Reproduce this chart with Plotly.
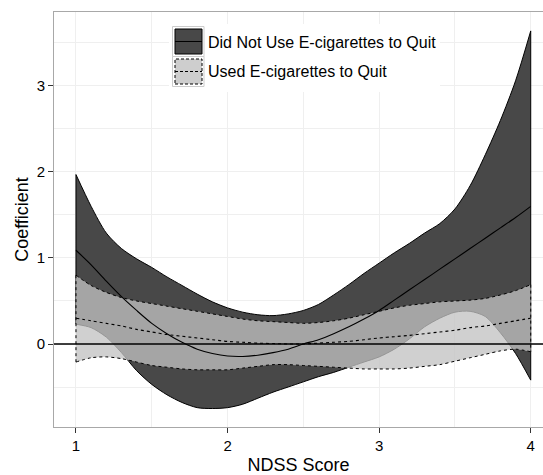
import plotly.graph_objects as go

# ---- data ----
ndss = [1.0, 1.1, 1.2, 1.3, 1.4, 1.5, 1.6, 1.7, 1.8, 1.9, 2.0,
        2.1, 2.2, 2.3, 2.4, 2.5, 2.6, 2.7, 2.8, 2.9, 3.0,
        3.1, 3.2, 3.3, 3.4, 3.5, 3.6, 3.7, 3.8, 3.9, 4.0]

no_ecig_upper = [1.97, 1.60, 1.29, 1.11, 0.99, 0.89, 0.78, 0.68, 0.58, 0.49, 0.42,
                 0.37, 0.34, 0.33, 0.35, 0.39, 0.46, 0.57, 0.69, 0.82, 0.94,
                 1.06, 1.17, 1.29, 1.40, 1.57, 1.84, 2.20, 2.60, 3.06, 3.64]
no_ecig_mean = [1.09, 0.92, 0.73, 0.55, 0.39, 0.24, 0.12, 0.02, -0.06, -0.11, -0.14,
                -0.145, -0.13, -0.10, -0.06, 0.00, 0.05, 0.12, 0.20, 0.29, 0.39,
                0.51, 0.63, 0.75, 0.87, 0.99, 1.11, 1.23, 1.35, 1.47, 1.60]
no_ecig_lower = [0.23, 0.19, 0.08, -0.10, -0.31, -0.47, -0.59, -0.68, -0.74, -0.75, -0.74,
                 -0.70, -0.63, -0.56, -0.50, -0.44, -0.38, -0.33, -0.27, -0.21, -0.15,
                 -0.06, 0.06, 0.20, 0.30, 0.37, 0.38, 0.32, 0.13, -0.11, -0.42]

ecig_upper = [0.80, 0.68, 0.60, 0.54, 0.50, 0.47, 0.44, 0.41, 0.38, 0.35, 0.32,
              0.29, 0.27, 0.26, 0.25, 0.24, 0.25, 0.27, 0.30, 0.34, 0.38,
              0.42, 0.45, 0.47, 0.49, 0.50, 0.51, 0.53, 0.57, 0.62, 0.69]
ecig_mean = [0.30, 0.27, 0.24, 0.21, 0.17, 0.14, 0.11, 0.09, 0.07, 0.05, 0.03,
             0.02, 0.01, 0.005, 0.0, 0.0, 0.01, 0.02, 0.03, 0.05, 0.07,
             0.085, 0.10, 0.12, 0.14, 0.16, 0.19, 0.21, 0.24, 0.27, 0.30]
ecig_lower = [-0.21, -0.16, -0.15, -0.17, -0.21, -0.25, -0.27, -0.29, -0.30, -0.30, -0.30,
              -0.28, -0.26, -0.24, -0.24, -0.25, -0.26, -0.27, -0.28, -0.29, -0.29,
              -0.29, -0.28, -0.26, -0.24, -0.20, -0.16, -0.12, -0.08, -0.06, -0.09]

x_ticks = [1, 2, 3, 4]
y_ticks = [0, 1, 2, 3]
legend_labels = ["Did Not Use E-cigarettes to Quit", "Used E-cigarettes to Quit"]

# ---- styles ----
DARK_FILL = "rgb(72,72,72)"
LIGHT_FILL = "rgba(194,194,194,0.77)"
FONT = "Arial, Liberation Sans, sans-serif"

W, H = 543, 475
ML, MR, MT, MB = 54, 0, 12, 48
PW, PH = W - ML - MR, H - MT - MB


def px(x):
    return (x - ML) / PW


def py(y):
    return (H - MB - y) / PH


fig = go.Figure()

# dark ribbon (Did Not Use)
fig.add_trace(go.Scatter(x=ndss, y=no_ecig_lower, mode="lines",
                         line=dict(color="black", width=1, shape="spline", smoothing=0.8),
                         showlegend=False, hoverinfo="skip"))
fig.add_trace(go.Scatter(x=ndss, y=no_ecig_upper, mode="lines", fill="tonexty",
                         fillcolor=DARK_FILL,
                         line=dict(color="black", width=1, shape="spline", smoothing=0.8),
                         showlegend=False, hoverinfo="skip"))
fig.add_trace(go.Scatter(x=[ndss[0], ndss[0], None, ndss[-1], ndss[-1]],
                         y=[no_ecig_upper[0], no_ecig_lower[0], None, no_ecig_upper[-1], no_ecig_lower[-1]],
                         mode="lines", line=dict(color="black", width=1),
                         showlegend=False, hoverinfo="skip"))

# light ribbon (Used)
fig.add_trace(go.Scatter(x=ndss, y=ecig_lower, mode="lines",
                         line=dict(color="black", width=1, dash="3px,3px", shape="spline", smoothing=0.8),
                         showlegend=False, hoverinfo="skip"))
fig.add_trace(go.Scatter(x=ndss, y=ecig_upper, mode="lines", fill="tonexty",
                         fillcolor=LIGHT_FILL,
                         line=dict(color="black", width=1, dash="3px,3px", shape="spline", smoothing=0.8),
                         showlegend=False, hoverinfo="skip"))
fig.add_trace(go.Scatter(x=[ndss[0], ndss[0], None, ndss[-1], ndss[-1]],
                         y=[ecig_upper[0], ecig_lower[0], None, ecig_upper[-1], ecig_lower[-1]],
                         mode="lines", line=dict(color="black", width=1, dash="3px,3px"),
                         showlegend=False, hoverinfo="skip"))

# mean lines
fig.add_trace(go.Scatter(x=ndss, y=no_ecig_mean, mode="lines",
                         line=dict(color="black", width=1.1, shape="spline", smoothing=0.8),
                         showlegend=False, hoverinfo="skip"))
fig.add_trace(go.Scatter(x=ndss, y=ecig_mean, mode="lines",
                         line=dict(color="black", width=1.1, dash="3px,3px", shape="spline", smoothing=0.8),
                         showlegend=False, hoverinfo="skip"))

shapes = []
# zero reference line
shapes.append(dict(type="line", xref="paper", yref="y", x0=0, x1=1, y0=0, y1=0,
                   line=dict(color="black", width=1.3), layer="above"))

# manual legend (ggplot-style keys)
shapes.append(dict(type="rect", xref="paper", yref="paper",
                   x0=px(169), x1=px(440), y0=py(92), y1=py(24),
                   fillcolor="white", line=dict(width=0), layer="above"))
kx0, kx1 = px(172.5), px(204)
shapes.append(dict(type="rect", xref="paper", yref="paper", x0=kx0, x1=kx1,
                   y0=py(56.5), y1=py(26.5), fillcolor="white",
                   line=dict(color="#cccccc", width=1), layer="above"))
shapes.append(dict(type="rect", xref="paper", yref="paper", x0=kx0, x1=kx1,
                   y0=py(86.5), y1=py(56.5), fillcolor="white",
                   line=dict(color="#cccccc", width=1), layer="above"))
shapes.append(dict(type="rect", xref="paper", yref="paper", x0=px(175), x1=px(202),
                   y0=py(54), y1=py(29), fillcolor=DARK_FILL,
                   line=dict(color="black", width=1), layer="above"))
shapes.append(dict(type="line", xref="paper", yref="paper", x0=px(175), x1=px(202),
                   y0=py(41.5), y1=py(41.5), line=dict(color="black", width=1), layer="above"))
shapes.append(dict(type="rect", xref="paper", yref="paper", x0=px(175), x1=px(202),
                   y0=py(84), y1=py(59), fillcolor="rgb(206,206,206)",
                   line=dict(color="black", width=1, dash="3px,2px"), layer="above"))
shapes.append(dict(type="line", xref="paper", yref="paper", x0=px(175), x1=px(202),
                   y0=py(71.5), y1=py(71.5), line=dict(color="black", width=1, dash="3px,2px"),
                   layer="above"))

annotations = [
    dict(text=legend_labels[0], xref="paper", yref="paper", x=px(206), y=py(42),
         xanchor="left", yanchor="middle", showarrow=False,
         font=dict(family=FONT, size=16, color="black")),
    dict(text=legend_labels[1], xref="paper", yref="paper", x=px(206), y=py(71.5),
         xanchor="left", yanchor="middle", showarrow=False,
         font=dict(family=FONT, size=16, color="black")),
]

GRID = "#efefef"
fig.update_layout(
    width=W, height=H,
    margin=dict(l=ML, r=MR, t=MT, b=MB, autoexpand=False),
    paper_bgcolor="white", plot_bgcolor="white",
    showlegend=False,
    shapes=shapes, annotations=annotations,
    font=dict(family=FONT, color="black"),
    xaxis=dict(range=[0.855, 4.081], tickvals=x_ticks, ticktext=[str(v) for v in x_ticks],
               ticks="outside", ticklen=5, tickwidth=1, tickcolor="#333333",
               tickfont=dict(size=15, color="black"),
               showgrid=True, gridcolor=GRID, gridwidth=1,
               minor=dict(dtick=0.5, tick0=0, showgrid=True, gridcolor=GRID, gridwidth=1),
               zeroline=False, showline=True, linecolor="#a8a8a8", linewidth=1, mirror=True,
               title=dict(text="NDSS Score", font=dict(size=18, color="black"), standoff=8)),
    yaxis=dict(range=[-0.965, 3.86], tickvals=y_ticks, ticktext=[str(v) for v in y_ticks],
               ticks="outside", ticklen=5, tickwidth=1, tickcolor="#333333",
               tickfont=dict(size=15, color="black"),
               showgrid=True, gridcolor=GRID, gridwidth=1,
               minor=dict(dtick=0.5, tick0=0, showgrid=True, gridcolor=GRID, gridwidth=1),
               zeroline=False, showline=True, linecolor="#a8a8a8", linewidth=1, mirror=False,
               title=dict(text="Coefficient", font=dict(size=18, color="black"), standoff=3)),
)

fig.write_html("out.html", config={"displayModeBar": False},
               post_script="document.body.style.margin='0px';")
